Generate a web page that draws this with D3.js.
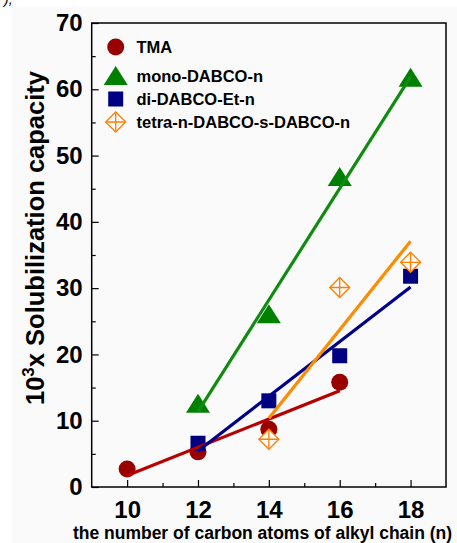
<!DOCTYPE html>
<html><head><meta charset="utf-8">
<script src="https://cdn.jsdelivr.net/npm/d3@7"></script>
<style>html,body{margin:0;padding:0;background:#fff;}svg{display:block;font-family:"Liberation Sans",Arial,sans-serif;}</style>
</head><body>
<svg id="c" width="457" height="543"></svg>
<script>
const xTicks = [10, 12, 14, 16, 18];
const xMinor = [11, 13, 15, 17];
const yTicks = [0, 10, 20, 30, 40, 50, 60, 70];
const yMinor = [5, 15, 25, 35, 45, 55, 65];

const seriesNames = ["TMA", "mono-DABCO-n", "di-DABCO-Et-n", "tetra-n-DABCO-s-DABCO-n"];
const tmaX = [10, 12, 14, 16];
const tmaY = [2.7, 5.3, 8.7, 15.8];
const monoX = [12, 14, 16, 18];
const monoY = [12.4, 25.9, 46.6, 61.6];
const diX = [12, 14, 16, 18];
const diY = [6.6, 13.0, 19.8, 31.8];
const tetraX = [14, 16, 18];
const tetraY = [7.2, 30.1, 33.9];

const series = [
  {name: seriesNames[0], xs: tmaX, ys: tmaY, marker: "circle", fill: "#990000", line: "#b80000"},
  {name: seriesNames[1], xs: monoX, ys: monoY, marker: "triangle", fill: "#008000", line: "#108a10"},
  {name: seriesNames[2], xs: diX, ys: diY, marker: "square", fill: "#000080", line: "#000088"},
  {name: seriesNames[3], xs: tetraX, ys: tetraY, marker: "diamond", fill: "#ff8000", line: "#ff8c00"}
];

const svg = d3.select("#c");
svg.append("rect").attr("x", 12).attr("y", 7).attr("width", 445).attr("height", 536).attr("fill", "#fafafa");
svg.append("text").attr("x", 4).attr("y", 4).attr("font-size", 14).attr("font-style", "italic").attr("fill", "#000").text("),");

const L = 91.7, R = 446, T = 23, B = 487;
const x = d3.scaleLinear().domain([9, 19]).range([L, R]);
const y = d3.scaleLinear().domain([0, 70]).range([B, T]);

// axes
const gx = svg.append("g").attr("transform", `translate(0,${B})`);
gx.call(d3.axisBottom(x).tickValues(xTicks).tickSize(-7).tickPadding(14).tickFormat(d3.format("d")));
const gxm = svg.append("g").attr("transform", `translate(0,${B})`);
gxm.call(d3.axisBottom(x).tickValues(xMinor).tickSize(-4).tickFormat(""));
const gy = svg.append("g").attr("transform", `translate(${L},0)`);
gy.call(d3.axisLeft(y).tickValues(yTicks).tickSize(-7).tickPadding(9).tickFormat(d3.format("d")));
const gym = svg.append("g").attr("transform", `translate(${L},0)`);
gym.call(d3.axisLeft(y).tickValues(yMinor).tickSize(-4).tickFormat(""));
[gx, gxm, gy, gym].forEach(g => {
  g.select(".domain").remove();
  g.selectAll("line").attr("stroke", "#000").attr("stroke-width", 1.2);
  g.selectAll("text").attr("font-size", 24).attr("font-weight", "bold").attr("fill", "#000")
    .attr("font-family", '"Liberation Sans",Arial,sans-serif');
});
gx.selectAll("text").attr("dy", "0.71em");
svg.append("rect").attr("x", L).attr("y", T).attr("width", R - L).attr("height", B - T)
  .attr("fill", "none").attr("stroke", "#000").attr("stroke-width", 1.5);

// markers
function drawMarker(g, kind, cx, cy, color) {
  if (kind === "circle") {
    g.append("circle").attr("cx", cx).attr("cy", cy).attr("r", 8.5).attr("fill", color);
  } else if (kind === "triangle") {
    g.append("path").attr("d", `M${cx},${cy - 11}L${cx + 12},${cy + 8}L${cx - 12},${cy + 8}Z`).attr("fill", color);
  } else if (kind === "square") {
    g.append("rect").attr("x", cx - 7.5).attr("y", cy - 7.5).attr("width", 15).attr("height", 15).attr("fill", color);
  } else {
    const r = 10;
    g.append("path").attr("d", `M${cx},${cy - r}L${cx + r},${cy}L${cx},${cy + r}L${cx - r},${cy}Z`)
      .attr("fill", "#fafafa").attr("stroke", color).attr("stroke-width", 1.3);
    g.append("path").attr("d", `M${cx},${cy - r}V${cy + r}M${cx - r},${cy}H${cx + r}`)
      .attr("stroke", color).attr("stroke-width", 1.3);
  }
}
const gm = svg.append("g");
series.forEach(s => s.xs.forEach((xv, i) => drawMarker(gm, s.marker, x(xv), y(s.ys[i]), s.fill)));

// least-squares fit lines
function fit(xs, ys) {
  const mx = d3.mean(xs), my = d3.mean(ys);
  const sxy = d3.sum(xs, (v, i) => (v - mx) * (ys[i] - my));
  const sxx = d3.sum(xs, v => (v - mx) * (v - mx));
  const k = sxy / sxx;
  return v => my + k * (v - mx);
}
const line = d3.line().x(d => x(d[0])).y(d => y(d[1]));
series.forEach(s => {
  const f = fit(s.xs, s.ys);
  const x0 = d3.min(s.xs), x1 = d3.max(s.xs);
  svg.append("path").attr("d", line([[x0, f(x0)], [x1, f(x1)]]))
    .attr("fill", "none").attr("stroke", s.line).attr("stroke-width", 3.2);
});

// legend
const lg = svg.append("g");
const legY = [47, 76, 99, 122];
series.forEach((s, i) => {
  drawMarker(lg, s.marker, 115.7, legY[i] + (s.marker === "triangle" ? 1 : 0), s.fill);
  lg.append("text").attr("x", 136.5).attr("y", legY[i] + 6).attr("font-size", 16.5).attr("font-weight", "bold")
    .attr("fill", "#000").text(s.name);
});

// axis titles
svg.append("text").attr("x", 262.5).attr("y", 538.5).attr("text-anchor", "middle")
  .attr("font-size", 17.5).attr("font-weight", "bold").attr("fill", "#000")
  .text("the number of carbon atoms of alkyl chain (n)");
const yt = svg.append("text").attr("transform", "translate(44,238) rotate(-90)").attr("text-anchor", "middle")
  .attr("font-size", 25.5).attr("font-weight", "bold").attr("fill", "#000");
yt.append("tspan").text("10");
yt.append("tspan").attr("font-size", 17).attr("dy", -10).text("3");
yt.append("tspan").attr("dy", 10).text("x Solubilization capacity");
</script>
</body></html>
